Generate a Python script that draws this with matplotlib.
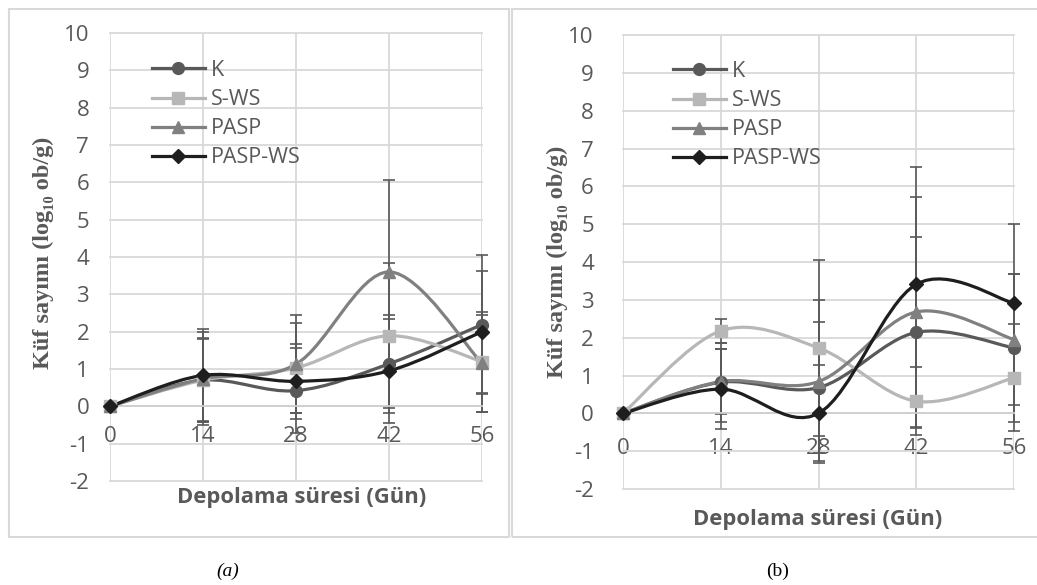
import matplotlib
matplotlib.use("Agg")
import numpy as np
import matplotlib.pyplot as plt
from matplotlib.path import Path
from matplotlib.patches import PathPatch, Rectangle
from matplotlib.lines import Line2D

plt.rcParams["axes.unicode_minus"] = False

# storage days
days = [0, 14, 28, 42, 56]
series_names = ["K", "S-WS", "PASP", "PASP-WS"]

# panel (a) means and errors
a_k = [0, 0.70, 0.42, 1.14, 2.19]
a_sws = [0, 0.70, 1.03, 1.89, 1.20]
a_pasp = [0, 0.74, 1.13, 3.60, 1.15]
a_paspws = [0, 0.83, 0.67, 0.95, 2.00]
a_k_err = [0, 1.12, 1.13, 1.31, 1.87]
a_sws_err = [0, 1.10, 1.20, 1.94, 1.34]
a_pasp_err = [0, 1.24, 1.32, 2.45, 1.30]
a_paspws_err = [0, 1.25, 1.01, 1.40, 1.63]

# panel (b) means and errors
b_k = [0, 0.82, 0.68, 2.14, 1.73]
b_sws = [0, 2.18, 1.73, 0.32, 0.94]
b_pasp = [0, 0.84, 0.84, 2.68, 1.95]
b_paspws = [0, 0.64, 0.00, 3.41, 2.91]
b_k_err = [0, 1.05, 1.73, 2.52, 1.95]
b_sws_err = [0, 0.32, 2.32, 0.90, 1.42]
b_pasp_err = [0, 0.85, 2.15, 3.05, 1.72]
b_paspws_err = [0, 1.05, 1.27, 3.09, 2.09]

colors = ["#595959", "#b7b7b7", "#808080", "#1e1e1e"]
markers = ["o", "s", "^", "D"]
msizes = [8.5, 8, 8.5, 7]

W, H = 1037, 585
fig = plt.figure(figsize=(W / 100, H / 100), dpi=100)

TICK_FONT = "Open Sans"
GRID = "#d9d9d9"
TXT = "#595959"


def smooth_path(x, y):
    # Excel-like smoothed line (Catmull-Rom as cubic Bezier)
    p = np.column_stack([x, y]).astype(float)
    n = len(p)
    verts = [p[0]]
    codes = [Path.MOVETO]
    for i in range(n - 1):
        prev = p[i - 1] if i > 0 else p[i]
        nxt = p[i + 2] if i + 2 < n else p[i + 1]
        c1 = p[i] + (p[i + 1] - prev) / 6
        c2 = p[i + 1] - (nxt - p[i]) / 6
        verts += [c1, c2, p[i + 1]]
        codes += [Path.CURVE4] * 3
    return Path(verts, codes)


def px_axes(x0, y0, x1, y1):
    return fig.add_axes([x0 / W, 1 - y1 / H, (x1 - x0) / W, (y1 - y0) / H])


def draw_panel(ax, means, errs, legend_anchor, ypad, xpad):
    ax.set_xlim(0, 56)
    ax.set_ylim(-2, 10)
    ax.set_xticks(days)
    ax.set_yticks(range(-2, 11))
    ax.grid(True, color=GRID, lw=1.3)
    for ln in ax.get_xgridlines() + ax.get_ygridlines():
        ln.set_clip_on(False)
    for s in ["top", "right", "left"]:
        ax.spines[s].set_visible(False)
    ax.spines["bottom"].set_position(("data", 0))
    ax.spines["bottom"].set_color("#cfcfcf")
    ax.spines["bottom"].set_linewidth(1.3)
    ax.tick_params(length=0, labelsize=16, labelcolor=TXT)
    ax.tick_params(axis="x", pad=xpad)
    ax.tick_params(axis="y", pad=ypad)
    for lab in ax.get_xticklabels() + ax.get_yticklabels():
        lab.set_fontfamily(TICK_FONT)
    ax.set_axisbelow(True)

    handles = []
    for m, e, c, mk, ms, name in zip(means, errs, colors, markers, msizes, series_names):
        ax.errorbar(days, m, yerr=e, fmt="none", ecolor="#595959", elinewidth=1.2,
                    capsize=4.5, capthick=1.2, zorder=2, clip_on=False)
        ax.add_patch(PathPatch(smooth_path(days, m), fill=False, edgecolor=c,
                               lw=2.3, zorder=3, clip_on=False))
        ax.plot(days, m, ls="none", marker=mk, ms=ms, color=c, zorder=4, clip_on=False)
        handles.append(Line2D([], [], color=c, lw=2.3, marker=mk, ms=ms))

    leg = ax.legend(handles, series_names, loc="upper left", bbox_to_anchor=legend_anchor,
                    frameon=False, handlelength=2.45, handletextpad=0.3, labelspacing=0.38,
                    borderpad=0, borderaxespad=0,
                    prop={"family": TICK_FONT, "size": 15.5})
    for t in leg.get_texts():
        t.set_color(TXT)


ax_a = px_axes(110, 33, 482, 481)
draw_panel(ax_a, [a_k, a_sws, a_pasp, a_paspws],
           [a_k_err, a_sws_err, a_pasp_err, a_paspws_err], (0.113, 0.94), 15, 14)

ax_b = px_axes(623, 35, 1014, 489)
draw_panel(ax_b, [b_k, b_sws, b_pasp, b_paspws],
           [b_k_err, b_sws_err, b_pasp_err, b_paspws_err], (0.128, 0.943), 21, 18)

ylabel = "Küf sayımı (log₁₀ ob/g)"
ylab_font = dict(family=["Liberation Serif", "DejaVu Serif"], weight="bold", size=17.5, color=TXT)
fig.text(43 / W, 1 - 253 / H, ylabel, rotation=90, ha="center", va="center", **ylab_font)
fig.text(557 / W, 1 - 262 / H, ylabel, rotation=90, ha="center", va="center", **ylab_font)

xlab_font = dict(family=TICK_FONT, weight="bold", size=15.8, color=TXT)
fig.text(302 / W, 1 - 498 / H, "Depolama süresi (Gün)", ha="center", va="center", **xlab_font)
fig.text(818 / W, 1 - 519 / H, "Depolama süresi (Gün)", ha="center", va="center", **xlab_font)

# chart area borders
fig.add_artist(Rectangle((9 / W, 1 - 537 / H), 500 / W, 528 / H, transform=fig.transFigure,
                         fill=False, edgecolor=GRID, lw=1.5))
fig.add_artist(Rectangle((512 / W, 1 - 537 / H), 540 / W, 528 / H, transform=fig.transFigure,
                         fill=False, edgecolor=GRID, lw=1.5))

cap_font = dict(family="Liberation Serif", size=14, color="black")
fig.text(228 / W, 1 - 571 / H, "(a)", ha="center", va="center", style="italic", **cap_font)
fig.text(778 / W, 1 - 571 / H, "(b)", ha="center", va="center", **cap_font)

fig.savefig("out.png", dpi=100)
